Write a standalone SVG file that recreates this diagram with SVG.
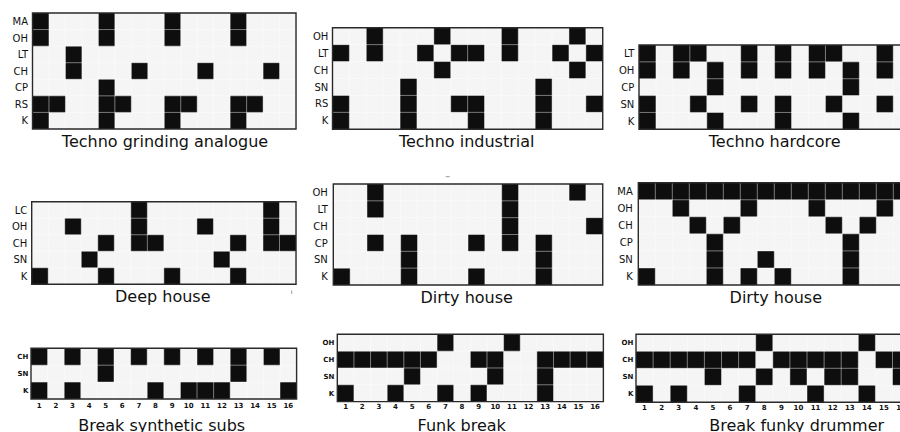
<svg xmlns="http://www.w3.org/2000/svg" width="900" height="432" viewBox="0 0 900 432">
<style>
.bg{fill:#f5f5f5}
.on{fill:#0e0e0e}
.gl{fill:none;stroke:#fff;stroke-opacity:.45;stroke-width:1;vector-effect:non-scaling-stroke}
.fr{fill:none;stroke:#2a2a2a;stroke-width:1.4;vector-effect:non-scaling-stroke}
.lb{font-family:"DejaVu Sans",sans-serif;font-size:10px;text-anchor:end;fill:#111}
.ls{font-family:"DejaVu Sans",sans-serif;font-size:7px;font-weight:bold;text-anchor:end;fill:#111}
.nm{font-family:"DejaVu Sans",sans-serif;font-size:7px;font-weight:bold;text-anchor:middle;fill:#111}
.tt{font-family:"DejaVu Sans",sans-serif;font-size:16px;text-anchor:middle;fill:#111}
.art{stroke:#999;stroke-width:1;fill:none}
</style>
<rect width="900" height="432" fill="#fff"/>

<g id="p1" transform="translate(32.5,13)">
<g transform="scale(16.47,16.57)">
<rect class="bg" width="16" height="7"/>
<path class="on" d="M0 0h1v1h-1zM4 0h1v1h-1zM8 0h1v1h-1zM12 0h1v1h-1zM0 1h1v1h-1zM4 1h1v1h-1zM8 1h1v1h-1zM12 1h1v1h-1zM2 2h1v1h-1zM2 3h1v1h-1zM6 3h1v1h-1zM10 3h1v1h-1zM14 3h1v1h-1zM4 4h1v1h-1zM0 5h2v1h-2zM4 5h2v1h-2zM8 5h2v1h-2zM12 5h2v1h-2zM0 6h1v1h-1zM4 6h1v1h-1zM8 6h1v1h-1zM12 6h1v1h-1z"/>
<path class="gl" d="M1 0V7M2 0V7M3 0V7M4 0V7M5 0V7M6 0V7M7 0V7M8 0V7M9 0V7M10 0V7M11 0V7M12 0V7M13 0V7M14 0V7M15 0V7M0 1H16M0 2H16M0 3H16M0 4H16M0 5H16M0 6H16"/>
<rect class="fr" width="16" height="7"/>
</g>
<text class="lb" x="-4.5" y="11.9">MA</text>
<text class="lb" x="-4.5" y="28.5">OH</text>
<text class="lb" x="-4.5" y="45">LT</text>
<text class="lb" x="-4.5" y="61.6">CH</text>
<text class="lb" x="-4.5" y="78.2">CP</text>
<text class="lb" x="-4.5" y="94.7">RS</text>
<text class="lb" x="-4.5" y="111.3">K</text>
</g>
<text class="tt" x="165" y="146.7">Techno grinding analogue</text>

<g id="p2" transform="translate(332.5,27.7)">
<g transform="scale(16.89,16.93)">
<rect class="bg" width="16" height="6"/>
<path class="on" d="M2 0h1v1h-1zM6 0h1v1h-1zM10 0h1v1h-1zM14 0h1v1h-1zM0 1h1v1h-1zM2 1h1v1h-1zM5 1h1v1h-1zM7 1h2v1h-2zM10 1h1v1h-1zM13 1h1v1h-1zM15 1h1v1h-1zM6 2h1v1h-1zM14 2h1v1h-1zM4 3h1v1h-1zM12 3h1v1h-1zM0 4h1v1h-1zM4 4h1v1h-1zM7 4h2v1h-2zM12 4h1v1h-1zM15 4h1v1h-1zM0 5h1v1h-1zM4 5h1v1h-1zM8 5h1v1h-1zM12 5h1v1h-1z"/>
<path class="gl" d="M1 0V6M2 0V6M3 0V6M4 0V6M5 0V6M6 0V6M7 0V6M8 0V6M9 0V6M10 0V6M11 0V6M12 0V6M13 0V6M14 0V6M15 0V6M0 1H16M0 2H16M0 3H16M0 4H16M0 5H16"/>
<rect class="fr" width="16" height="6"/>
</g>
<text class="lb" x="-4.2" y="12.1">OH</text>
<text class="lb" x="-4.2" y="29">LT</text>
<text class="lb" x="-4.2" y="45.9">CH</text>
<text class="lb" x="-4.2" y="62.9">SN</text>
<text class="lb" x="-4.2" y="79.8">RS</text>
<text class="lb" x="-4.2" y="96.7">K</text>
</g>
<text class="tt" x="466.7" y="146.7">Techno industrial</text>

<g id="p3" transform="translate(639,45)">
<g transform="scale(16.95,16.86)">
<rect class="bg" width="16" height="5"/>
<path class="on" d="M0 0h1v1h-1zM2 0h2v1h-2zM6 0h1v1h-1zM8 0h1v1h-1zM10 0h2v1h-2zM14 0h1v1h-1zM0 1h1v1h-1zM2 1h1v1h-1zM4 1h1v1h-1zM6 1h1v1h-1zM8 1h1v1h-1zM10 1h1v1h-1zM12 1h1v1h-1zM14 1h1v1h-1zM4 2h1v1h-1zM12 2h1v1h-1zM0 3h1v1h-1zM3 3h1v1h-1zM6 3h1v1h-1zM8 3h1v1h-1zM11 3h1v1h-1zM14 3h1v1h-1zM0 4h1v1h-1zM4 4h1v1h-1zM8 4h1v1h-1zM12 4h1v1h-1z"/>
<path class="gl" d="M1 0V5M2 0V5M3 0V5M4 0V5M5 0V5M6 0V5M7 0V5M8 0V5M9 0V5M10 0V5M11 0V5M12 0V5M13 0V5M14 0V5M15 0V5M0 1H16M0 2H16M0 3H16M0 4H16"/>
<rect class="fr" width="16" height="5"/>
</g>
<text class="lb" x="-4.7" y="12">LT</text>
<text class="lb" x="-4.7" y="28.9">OH</text>
<text class="lb" x="-4.7" y="45.8">CP</text>
<text class="lb" x="-4.7" y="62.6">SN</text>
<text class="lb" x="-4.7" y="79.5">K</text>
</g>
<text class="tt" x="774.7" y="146.7">Techno hardcore</text>

<g id="p4" transform="translate(31.7,201.7)">
<g transform="scale(16.52,16.52)">
<rect class="bg" width="16" height="5"/>
<path class="on" d="M6 0h1v1h-1zM14 0h1v1h-1zM2 1h1v1h-1zM6 1h1v1h-1zM10 1h1v1h-1zM14 1h1v1h-1zM4 2h1v1h-1zM6 2h2v1h-2zM12 2h1v1h-1zM14 2h2v1h-2zM3 3h1v1h-1zM11 3h1v1h-1zM0 4h1v1h-1zM4 4h1v1h-1zM8 4h1v1h-1zM12 4h1v1h-1z"/>
<path class="gl" d="M1 0V5M2 0V5M3 0V5M4 0V5M5 0V5M6 0V5M7 0V5M8 0V5M9 0V5M10 0V5M11 0V5M12 0V5M13 0V5M14 0V5M15 0V5M0 1H16M0 2H16M0 3H16M0 4H16"/>
<rect class="fr" width="16" height="5"/>
</g>
<text class="lb" x="-4.4" y="11.9">LC</text>
<text class="lb" x="-4.4" y="28.4">OH</text>
<text class="lb" x="-4.4" y="44.9">CH</text>
<text class="lb" x="-4.4" y="61.4">SN</text>
<text class="lb" x="-4.4" y="77.9">K</text>
</g>
<text class="tt" x="162.8" y="302.3">Deep house</text>
<path class="art" d="M291.7 290.5v3.5"/>

<g id="p5" transform="translate(333.3,184)">
<g transform="scale(16.84,16.83)">
<rect class="bg" width="16" height="6"/>
<path class="on" d="M2 0h1v1h-1zM10 0h1v1h-1zM14 0h1v1h-1zM2 1h1v1h-1zM10 1h1v1h-1zM10 2h1v1h-1zM15 2h1v1h-1zM2 3h1v1h-1zM4 3h1v1h-1zM8 3h1v1h-1zM10 3h1v1h-1zM12 3h1v1h-1zM4 4h1v1h-1zM12 4h1v1h-1zM0 5h1v1h-1zM4 5h1v1h-1zM8 5h1v1h-1zM12 5h1v1h-1z"/>
<path class="gl" d="M1 0V6M2 0V6M3 0V6M4 0V6M5 0V6M6 0V6M7 0V6M8 0V6M9 0V6M10 0V6M11 0V6M12 0V6M13 0V6M14 0V6M15 0V6M0 1H16M0 2H16M0 3H16M0 4H16M0 5H16"/>
<rect class="fr" width="16" height="6"/>
</g>
<text class="lb" x="-5.5" y="12">OH</text>
<text class="lb" x="-5.5" y="28.9">LT</text>
<text class="lb" x="-5.5" y="45.7">CH</text>
<text class="lb" x="-5.5" y="62.5">CP</text>
<text class="lb" x="-5.5" y="79.3">SN</text>
<text class="lb" x="-5.5" y="96.2">K</text>
</g>
<text class="tt" x="466.7" y="302.7">Dirty house</text>
<path class="art" d="M445.7 176.7h4"/>

<g id="p6" transform="translate(638.3,182.7)">
<g transform="scale(17,17.05)">
<rect class="bg" width="16" height="6"/>
<path class="on" d="M0 0h16v1h-16zM2 1h1v1h-1zM6 1h1v1h-1zM10 1h1v1h-1zM14 1h1v1h-1zM3 2h1v1h-1zM5 2h1v1h-1zM11 2h1v1h-1zM13 2h1v1h-1zM4 3h1v1h-1zM12 3h1v1h-1zM4 4h1v1h-1zM7 4h1v1h-1zM12 4h1v1h-1zM0 5h1v1h-1zM4 5h1v1h-1zM6 5h1v1h-1zM8 5h1v1h-1zM12 5h1v1h-1z"/>
<path class="gl" d="M1 0V6M2 0V6M3 0V6M4 0V6M5 0V6M6 0V6M7 0V6M8 0V6M9 0V6M10 0V6M11 0V6M12 0V6M13 0V6M14 0V6M15 0V6M0 1H16M0 2H16M0 3H16M0 4H16M0 5H16"/>
<rect class="fr" width="16" height="6"/>
</g>
<text class="lb" x="-5.5" y="12.1">MA</text>
<text class="lb" x="-5.5" y="29.2">OH</text>
<text class="lb" x="-5.5" y="46.2">CH</text>
<text class="lb" x="-5.5" y="63.3">CP</text>
<text class="lb" x="-5.5" y="80.3">SN</text>
<text class="lb" x="-5.5" y="97.4">K</text>
</g>
<text class="tt" x="775.8" y="302.7">Dirty house</text>

<g id="p7" transform="translate(31,348.3)">
<g transform="scale(16.6,16.9)">
<rect class="bg" width="16" height="3"/>
<path class="on" d="M0 0h1v1h-1zM2 0h1v1h-1zM4 0h1v1h-1zM6 0h1v1h-1zM8 0h1v1h-1zM10 0h1v1h-1zM12 0h1v1h-1zM14 0h1v1h-1zM4 1h1v1h-1zM12 1h1v1h-1zM0 2h1v1h-1zM2 2h1v1h-1zM7 2h1v1h-1zM9 2h3v1h-3zM15 2h1v1h-1z"/>
<path class="gl" d="M1 0V3M2 0V3M3 0V3M4 0V3M5 0V3M6 0V3M7 0V3M8 0V3M9 0V3M10 0V3M11 0V3M12 0V3M13 0V3M14 0V3M15 0V3M0 1H16M0 2H16"/>
<rect class="fr" width="16" height="3"/>
</g>
<text class="ls" x="-2.7" y="11">CH</text>
<text class="ls" x="-2.7" y="27.9">SN</text>
<text class="ls" x="-2.7" y="44.8">K</text>
<text class="nm" x="8.3" y="60">1</text>
<text class="nm" x="24.9" y="60">2</text>
<text class="nm" x="41.5" y="60">3</text>
<text class="nm" x="58.1" y="60">4</text>
<text class="nm" x="74.7" y="60">5</text>
<text class="nm" x="91.3" y="60">6</text>
<text class="nm" x="107.9" y="60">7</text>
<text class="nm" x="124.5" y="60">8</text>
<text class="nm" x="141.1" y="60">9</text>
<text class="nm" x="157.7" y="60">10</text>
<text class="nm" x="174.3" y="60">11</text>
<text class="nm" x="190.9" y="60">12</text>
<text class="nm" x="207.5" y="60">13</text>
<text class="nm" x="224.1" y="60">14</text>
<text class="nm" x="240.7" y="60">15</text>
<text class="nm" x="257.3" y="60">16</text>
</g>
<text class="tt" x="161.7" y="431">Break synthetic subs</text>

<g id="p8" transform="translate(337.3,334.3)">
<g transform="scale(16.63,16.83)">
<rect class="bg" width="16" height="4"/>
<path class="on" d="M6 0h1v1h-1zM10 0h1v1h-1zM0 1h6v1h-6zM8 1h2v1h-2zM12 1h4v1h-4zM4 2h1v1h-1zM9 2h1v1h-1zM12 2h1v1h-1zM0 3h1v1h-1zM3 3h1v1h-1zM6 3h1v1h-1zM8 3h1v1h-1zM12 3h1v1h-1z"/>
<path class="gl" d="M1 0V4M2 0V4M3 0V4M4 0V4M5 0V4M6 0V4M7 0V4M8 0V4M9 0V4M10 0V4M11 0V4M12 0V4M13 0V4M14 0V4M15 0V4M0 1H16M0 2H16M0 3H16"/>
<rect class="fr" width="16" height="4"/>
</g>
<text class="ls" x="-3" y="10.9">OH</text>
<text class="ls" x="-3" y="27.8">CH</text>
<text class="ls" x="-3" y="44.6">SN</text>
<text class="ls" x="-3" y="61.4">K</text>
<text class="nm" x="8.3" y="74.7">1</text>
<text class="nm" x="24.9" y="74.7">2</text>
<text class="nm" x="41.6" y="74.7">3</text>
<text class="nm" x="58.2" y="74.7">4</text>
<text class="nm" x="74.8" y="74.7">5</text>
<text class="nm" x="91.5" y="74.7">6</text>
<text class="nm" x="108.1" y="74.7">7</text>
<text class="nm" x="124.7" y="74.7">8</text>
<text class="nm" x="141.4" y="74.7">9</text>
<text class="nm" x="158" y="74.7">10</text>
<text class="nm" x="174.6" y="74.7">11</text>
<text class="nm" x="191.3" y="74.7">12</text>
<text class="nm" x="207.9" y="74.7">13</text>
<text class="nm" x="224.5" y="74.7">14</text>
<text class="nm" x="241.2" y="74.7">15</text>
<text class="nm" x="257.8" y="74.7">16</text>
</g>
<text class="tt" x="461.7" y="431">Funk break</text>

<g id="p9" transform="translate(636,334.3)">
<g transform="scale(17.1,17)">
<rect class="bg" width="16" height="4"/>
<path class="on" d="M7 0h1v1h-1zM13 0h1v1h-1zM0 1h7v1h-7zM8 1h5v1h-5zM14 1h2v1h-2zM4 2h1v1h-1zM7 2h1v1h-1zM9 2h1v1h-1zM11 2h2v1h-2zM15 2h1v1h-1zM0 3h1v1h-1zM2 3h1v1h-1zM6 3h1v1h-1zM10 3h1v1h-1zM13 3h1v1h-1z"/>
<path class="gl" d="M1 0V4M2 0V4M3 0V4M4 0V4M5 0V4M6 0V4M7 0V4M8 0V4M9 0V4M10 0V4M11 0V4M12 0V4M13 0V4M14 0V4M15 0V4M0 1H16M0 2H16M0 3H16"/>
<rect class="fr" width="16" height="4"/>
</g>
<text class="ls" x="-2.7" y="11">OH</text>
<text class="ls" x="-2.7" y="28">CH</text>
<text class="ls" x="-2.7" y="45">SN</text>
<text class="ls" x="-2.7" y="62">K</text>
<text class="nm" x="8.55" y="75.7">1</text>
<text class="nm" x="25.65" y="75.7">2</text>
<text class="nm" x="42.75" y="75.7">3</text>
<text class="nm" x="59.85" y="75.7">4</text>
<text class="nm" x="76.95" y="75.7">5</text>
<text class="nm" x="94.05" y="75.7">6</text>
<text class="nm" x="111.15" y="75.7">7</text>
<text class="nm" x="128.25" y="75.7">8</text>
<text class="nm" x="145.35" y="75.7">9</text>
<text class="nm" x="162.45" y="75.7">10</text>
<text class="nm" x="179.55" y="75.7">11</text>
<text class="nm" x="196.65" y="75.7">12</text>
<text class="nm" x="213.75" y="75.7">13</text>
<text class="nm" x="230.85" y="75.7">14</text>
<text class="nm" x="247.95" y="75.7">15</text>
<text class="nm" x="265.05" y="75.7">16</text>
</g>
<text class="tt" x="796.7" y="431">Break funky drummer</text>
</svg>
